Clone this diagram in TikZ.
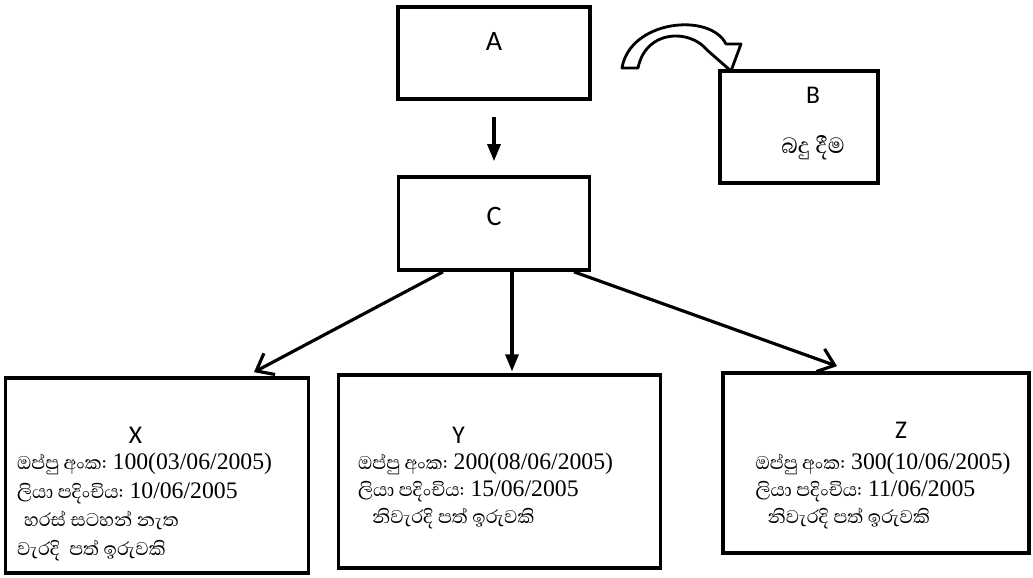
\documentclass[tikz,border=0pt]{standalone}
\usepackage{fontspec}
\setmainfont{Carlito}
\newfontfamily\sinhala[Script=Sinhala]{Abhaya Libre}
\newfontfamily\tnr{Liberation Serif}
\usetikzlibrary{arrows.meta, positioning}

\begin{document}
\begin{tikzpicture}[node distance=1cm, on grid, >={Triangle[length=0.34cm,width=0.26cm]},
      box/.style={draw, line width=2.1pt, inner sep=0pt},
      lbl/.style={font=\fontsize{16}{18}\selectfont},
      sml/.style={font=\fontsize{14.5}{16}\selectfont},
      info/.style={font=\sinhala\fontsize{13.5}{15.2}\selectfont, align=left, anchor=north west, inner sep=0pt},
      link/.style={line width=1.8pt},
      barb/.style={-{Straight Barb[length=0.3cm,width=0.48cm]}}]
      \useasboundingbox (0,0) rectangle (20.66,-11.56);
      \node[box, minimum width=3.84cm, minimum height=1.84cm] (A) at (9.88,-1.06) {};
      \node[box, minimum width=3.82cm, minimum height=1.86cm] (C) [below=3.41cm of A] {};
      \node[box, minimum width=3.16cm, minimum height=2.24cm] (B) [below right=1.48cm and 6.1cm of A] {};
      \node[box, minimum width=6.06cm, minimum height=3.9cm] (X) [below left=5.04cm and 6.74cm of C] {};
      \node[box, minimum width=6.44cm, minimum height=3.86cm] (Y) [below right=4.96cm and 0.11cm of C] {};
      \node[box, minimum width=6.12cm, minimum height=3.6cm] (Z) [below right=4.79cm and 7.64cm of C] {};
      % letters
      \node[lbl] (Alab) at ([yshift=-0.72cm]A.north) {A};
      \node[lbl] (Clab) at ([yshift=-0.82cm]C.north) {C};
      \node[sml] (Blab) at ([xshift=0.28cm,yshift=-0.52cm]B.north) {B};
      \node[sml, font=\sinhala\fontsize{16}{18}\selectfont] (Btxt) at ([xshift=0.28cm,yshift=-1.58cm]B.north) {බදු දීම};
      \node[sml] (Xlab) at ([xshift=-0.43cm,yshift=-1.18cm]X.north) {X};
      \node[sml] (Ylab) at ([xshift=-0.82cm,yshift=-1.24cm]Y.north) {Y};
      \node[sml] (Zlab) at ([xshift=0.5cm,yshift=-1.18cm]Z.north) {Z};
      % details
      \node[info, font=\sinhala\fontsize{13.5}{16.2}\selectfont] (Xtxt) at ([xshift=0.26cm,yshift=-1.54cm]X.north west)
        {ඔප්පු අංක: {\tnr 100(03/06/2005)}\\ලියා පදිංචිය: {\tnr 10/06/2005}\\\hspace*{0.14cm}හරස් සටහන් නැත\\වැරදි\ \ පත් ඉරුවකි};
      \node[info] (Ytxt) at ([xshift=0.42cm,yshift=-1.6cm]Y.north west)
        {ඔප්පු අංක: {\tnr 200(08/06/2005)}\\ලියා පදිංචිය: {\tnr 15/06/2005}\\\hspace*{0.28cm}නිවැරදි පත් ඉරුවකි};
      \node[info] (Ztxt) at ([xshift=0.68cm,yshift=-1.64cm]Z.north west)
        {ඔප්පු අංක: {\tnr 300(10/06/2005)}\\ලියා පදිංචිය: {\tnr 11/06/2005}\\\hspace*{0.24cm}නිවැරදි පත් ඉරුවකි};
      % arrows
      \draw[link, ->, shorten <=0.32cm, shorten >=0.28cm] (A) -- (C);
      \draw[link, ->, shorten >=1pt] ([xshift=0.36cm]C.south) -- ([xshift=0.36cm]C.south |- Y.north);
      \draw[link, barb] ([xshift=-1.02cm]C.south) -- ([xshift=1.94cm,yshift=0.08cm]X.north);
      \draw[link, barb] ([xshift=1.6cm]C.south) -- ([xshift=-0.78cm,yshift=0.1cm]Z.north);
      % hollow bent arrow
      \draw[line width=1.6pt, fill=white, line join=round]
        (12.44,-1.36) .. controls (12.60,-0.40) and (14.20,-0.24) .. (14.52,-0.88)
        -- (14.82,-0.88) -- (14.62,-1.42) -- (14.14,-1.00)
        .. controls (13.80,-0.58) and (12.92,-0.58) .. (12.76,-1.36) -- cycle;
\end{tikzpicture}
\end{document}
